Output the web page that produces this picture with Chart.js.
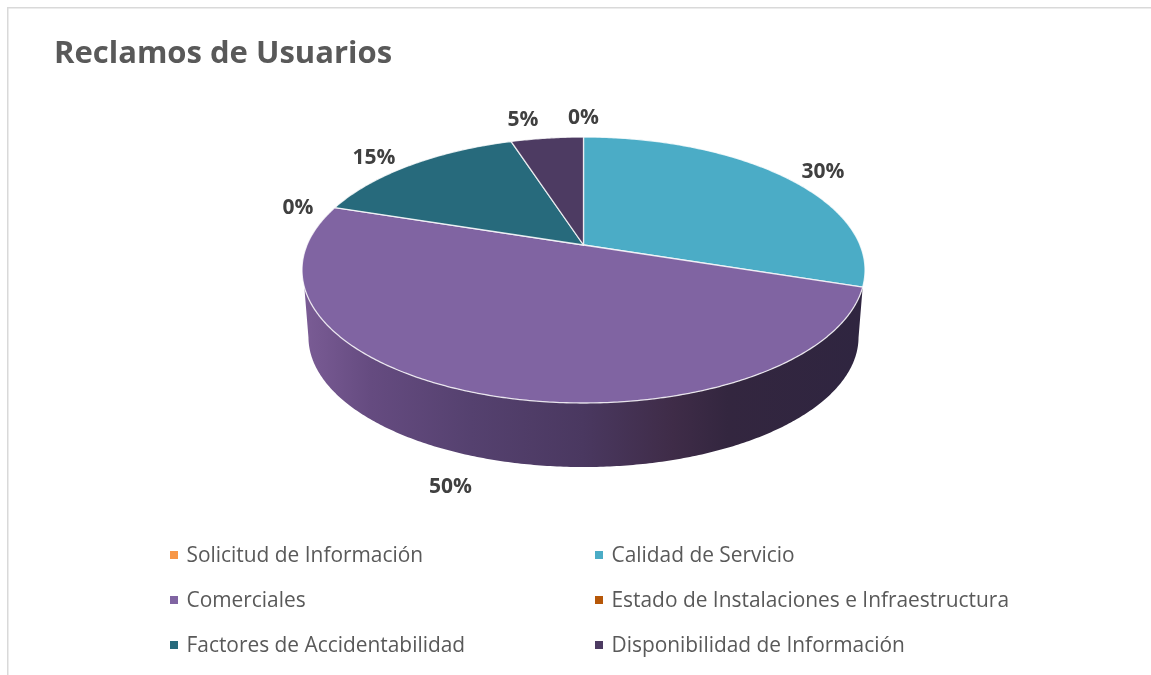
<!DOCTYPE html>
<html>
<head>
<meta charset="utf-8">
<title>Reclamos de Usuarios</title>
<script src="https://cdn.jsdelivr.net/npm/chart.js@4"></script>
<style>
    body { margin: 0; background: #fff; }
    canvas { display: block; }
</style>
</head>
<body>
<canvas id="reclamosChart" width="1151" height="675"></canvas>
<script>
const categories = ['Solicitud de Información', 'Calidad de Servicio', 'Comerciales', 'Estado de Instalaciones e Infraestructura', 'Factores de Accidentabilidad', 'Disponibilidad de Información'];
const values = [0, 30, 50, 0, 15, 5];
const colors = ['#F79646', '#4BACC6', '#8064A2', '#B65708', '#276A7C', '#4D3B62'];

// label offset from the rim point of each slice
const labelShift = [[0, -19], [38, -5], [-29, 93], [-37, 0], [-37, -7], [-24, -18]];
// legend cell order: reading left to right, two columns
const legendX = [170, 595];
const legendY = [555, 600, 645];

// the tilted disc: a circle seen in perspective, apex is off the ellipse centre
const cx = 583.5, cy = 245, rx = 276.5, ry = 128.3, tilt = 0.188;
// the wall under the disc, points shrink a little towards a far vanishing point
const depthScale = 0.977, vanishY = 3187;
const frontFrom = 18 * Math.PI / 180, frontTo = 162 * Math.PI / 180;
const wallOverhang = 7 * Math.PI / 180;

function project(angle, depth) {
    const u = Math.cos(angle), v = Math.sin(angle);
    const d = 1 - tilt * v;
    let x = cx + rx * u / d;
    let y = cy + ry * v / d;
    if (depth) {
        x = cx + (x - cx) * depthScale;
        y = vanishY + (y - vanishY) * depthScale;
    }
    return { x, y };
}

function arcPath(ctx, from, to, depth, first) {
    const steps = Math.max(2, Math.ceil(Math.abs(to - from) / 0.01));
    for (let i = 0; i <= steps; i++) {
        const p = project(from + (to - from) * i / steps, depth);
        if (i === 0 && first) ctx.moveTo(p.x, p.y);
        else ctx.lineTo(p.x, p.y);
    }
}

const perspectivePie = {
    id: 'perspectivePie',
    beforeDraw(chart) {
        const ctx = chart.ctx;
        ctx.save();
        ctx.fillStyle = '#fff';
        ctx.fillRect(0, 0, chart.width, chart.height);
        ctx.fillStyle = '#D9D9D9';
        ctx.fillRect(7, 7, chart.width - 7, 1.5);
        ctx.fillRect(7, 7, 1.5, chart.height - 7);
        ctx.restore();
    },
    beforeDatasetDraw(chart, args) {
        const ctx = chart.ctx;
        const arcs = args.meta.data;
        ctx.save();

        // side wall first, the top face covers its upper edge
        arcs.forEach((arc) => {
            const from = Math.max(arc.startAngle, frontFrom);
            const to = Math.min(arc.endAngle, frontTo);
            if (to <= from) return;
            const shade = ctx.createLinearGradient(304, 0, 862, 0);
            shade.addColorStop(0, '#7A5C95');
            shade.addColorStop(0.12, '#654B80');
            shade.addColorStop(0.3, '#55416F');
            shade.addColorStop(0.5, '#4A3860');
            shade.addColorStop(0.66, '#3F2C48');
            shade.addColorStop(0.76, '#33263F');
            shade.addColorStop(1, '#2F2540');
            ctx.beginPath();
            arcPath(ctx, from, to, false, true);
            arcPath(ctx, to + wallOverhang, from - wallOverhang, true, false);
            ctx.closePath();
            ctx.fillStyle = shade;
            ctx.fill();
        });

        // top face
        arcs.forEach((arc, i) => {
            if (arc.endAngle - arc.startAngle <= 0) return;
            ctx.beginPath();
            ctx.moveTo(cx, cy);
            arcPath(ctx, arc.startAngle, arc.endAngle, false, false);
            ctx.closePath();
            ctx.fillStyle = colors[i];
            ctx.fill();
            ctx.strokeStyle = 'rgba(255,255,255,0.8)';
            ctx.lineWidth = 1.3;
            ctx.lineJoin = 'round';
            ctx.stroke();
        });
        ctx.restore();
        return false;
    },
    afterDatasetsDraw(chart) {
        const ctx = chart.ctx;
        const arcs = chart.getDatasetMeta(0).data;
        ctx.save();

        // percent labels
        ctx.font = 'bold 21px "Open Sans"';
        ctx.fillStyle = '#404040';
        ctx.textAlign = 'center';
        ctx.textBaseline = 'middle';
        arcs.forEach((arc, i) => {
            const p = project((arc.startAngle + arc.endAngle) / 2);
            ctx.fillText(values[i] + '%', p.x + labelShift[i][0], p.y + labelShift[i][1]);
        });

        // legend
        ctx.font = '20.9px "Open Sans"';
        ctx.textAlign = 'left';
        categories.forEach((name, i) => {
            const x = legendX[i % 2], y = legendY[Math.floor(i / 2)];
            ctx.fillStyle = colors[i];
            ctx.fillRect(x, y - 4, 8, 8);
            ctx.fillStyle = '#595959';
            ctx.fillText(name, x + 16.5, y + 1.5);
        });
        ctx.restore();
    }
};

new Chart(document.getElementById('reclamosChart'), {
    type: 'pie',
    data: {
        labels: categories,
        datasets: [{
            data: values,
            backgroundColor: colors,
            borderColor: '#fff',
            borderWidth: 1
        }]
    },
    options: {
        responsive: false,
        animation: false,
        layout: { padding: { left: 54, top: 36 } },
        plugins: {
            legend: { display: false },
            tooltip: { enabled: false },
            title: {
                display: true,
                text: 'Reclamos de Usuarios',
                align: 'start',
                color: '#595959',
                font: { family: '"Open Sans"', size: 31, weight: 'bold' },
                padding: 0
            }
        }
    },
    plugins: [perspectivePie]
});
</script>
</body>
</html>
